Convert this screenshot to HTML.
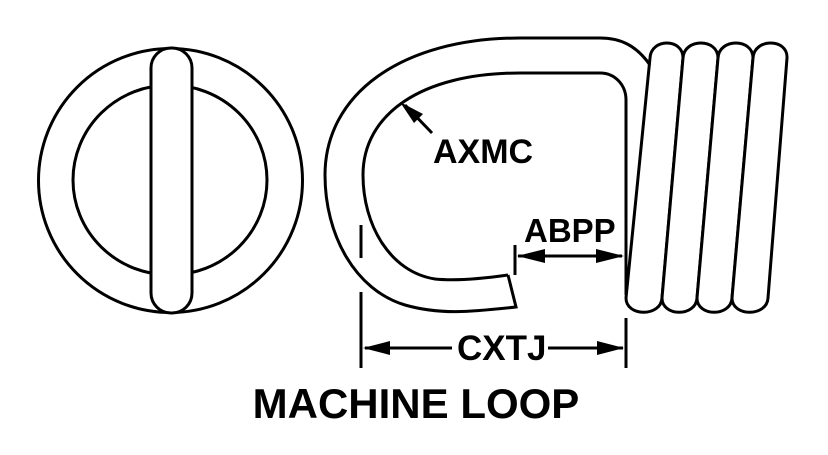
<!DOCTYPE html>
<html><head><style>
html,body{margin:0;padding:0;background:#fff;}
svg{display:block}
text{font-family:"Liberation Sans",Arial,sans-serif;font-weight:bold;fill:#000}
</style></head><body>
<svg width="828" height="455" viewBox="0 0 828 455">
<g fill="none" stroke="#000" stroke-width="3">
<circle cx="170.5" cy="180.5" r="132"/>
<ellipse cx="170" cy="180" rx="97" ry="95"/>
<rect x="151" y="48" width="41" height="265" rx="20" ry="20" fill="#fff"/>
<!-- coils -->
<path fill="#fff" d="M626,298 L650,58 C651,38 683,38 683,58 L662,298 C661,317 626,317 626,298 Z"/>
<path fill="#fff" d="M662,298 L683,58 C684,38 718,38 718,58 L697,298 C696,317 662,317 662,298 Z"/>
<path fill="#fff" d="M697,298 L718,58 C719,38 753,38 753,58 L732,298 C731,317 697,317 697,298 Z"/>
<path fill="#fff" d="M732,298 L753,58 C754,38 788,38 787,58 L768,298 C767,317 732,317 732,298 Z"/>
<!-- loop -->
<path d="M508,275 L516,307 C470,312 440,315 405,305 C355,290 325,235 325,175 C325,95 400,38 520,38 L600,38 C620,38 636,45 650,65"/>
<path d="M508,275 C480,279 455,281 435,279 C390,272 363,225 363,175 C363,115 420,73 520,73 L600,73 C615,73 626,85 626,100 L626,295"/>
<!-- dims -->
<path d="M361,225 V258 M361,292 V368 M626,318 V368 M515,245 V275"/>
<path d="M365,348 H452 M548,348 H623 M518,256 H622 M405,105 L432,133"/>
</g>
<g fill="#000">
<polygon points="363,348 390,341 390,355"/>
<polygon points="624,348 597,341 597,355"/>
<polygon points="517,256 545,249 545,263"/>
<polygon points="624,256 596,249 596,263"/>
<polygon points="400,102 423,114 414,123"/>
</g>
<text x="433" y="163" font-size="34">AXMC</text>
<text x="524" y="242" font-size="33">ABPP</text>
<text x="457" y="360" font-size="35">CXTJ</text>
<text x="416" y="418" font-size="42" text-anchor="middle">MACHINE LOOP</text>
</svg>
</body></html>
